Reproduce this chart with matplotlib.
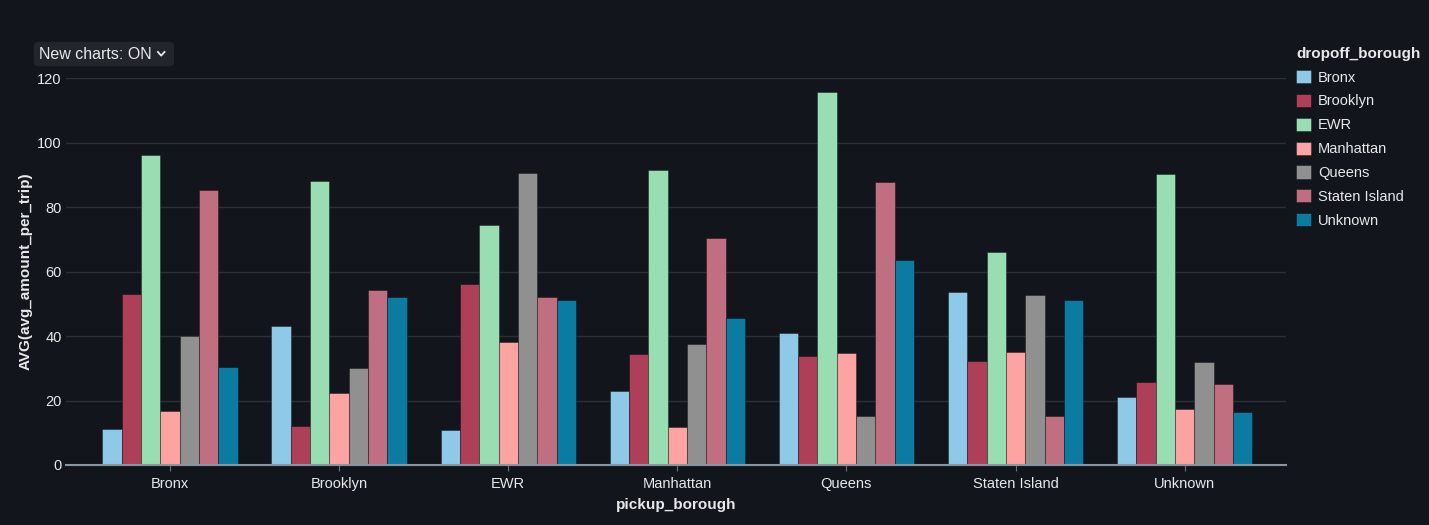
import numpy as np
import matplotlib
matplotlib.use("Agg")
import matplotlib.pyplot as plt
from matplotlib.lines import Line2D

plt.rcParams['font.family'] = ['Liberation Sans', 'DejaVu Sans']

# data
pickup = ["Bronx", "Brooklyn", "EWR", "Manhattan", "Queens", "Staten Island", "Unknown"]
dropoff = ["Bronx", "Brooklyn", "EWR", "Manhattan", "Queens", "Staten Island", "Unknown"]
# one list per dropoff borough, values in pickup order
bronx = [11.2, 43.1, 10.9, 23.0, 40.9, 53.6, 21.1]
brooklyn = [53.0, 12.1, 56.1, 34.4, 33.8, 32.2, 25.7]
ewr = [96.1, 88.0, 74.4, 91.5, 115.7, 66.0, 90.2]
manhattan = [16.7, 22.3, 38.1, 11.8, 34.7, 35.0, 17.4]
queens = [40.0, 30.0, 90.5, 37.5, 15.2, 52.7, 31.9]
staten_island = [85.3, 54.3, 52.1, 70.4, 87.8, 15.2, 25.1]
unknown = [30.4, 52.1, 51.2, 45.6, 63.6, 51.2, 16.4]
series = [bronx, brooklyn, ewr, manhattan, queens, staten_island, unknown]
colors = ["#8ecae8", "#ad4058", "#99deb3", "#fda4a2", "#909090", "#bf6f80", "#0b7ba2"]

bg = "#12161c"
fg = "#e6e8ea"

fig = plt.figure(figsize=(14.29, 5.25), dpi=100, facecolor=bg)
ax = fig.add_axes([0.0462, 0.1143, 0.8538, 0.737], facecolor=bg)

x = np.arange(len(pickup))
n = len(series)
w = 0.8 / n
for i, (name, vals, c) in enumerate(zip(dropoff, series, colors)):
    ax.bar(x - 0.4 + w * (i + 0.5), vals, width=w, color=c, label=name,
           edgecolor=(0, 0, 0, 0.35), linewidth=0.7, zorder=3)

ax.set_xlim(-0.615, 6.6)
ax.set_ylim(0, 120)
ax.set_yticks(range(0, 121, 20))
ax.yaxis.grid(True, color="#2c3035", linewidth=1, zorder=0)
ax.tick_params(axis='y', length=0, colors=fg, labelsize=10.5, pad=3)
ax.tick_params(axis='x', length=4, color="#6a737c", colors=fg, labelsize=10.5, pad=5)
ax.set_xticks(x)
ax.set_xticklabels(pickup)
for s in ["top", "right", "left"]:
    ax.spines[s].set_visible(False)
ax.spines["bottom"].set_color("#8a96a2")
ax.spines["bottom"].set_linewidth(1.5)
ax.spines["bottom"].set_zorder(4)

ax.set_xlabel("pickup_borough", color=fg, fontsize=11, fontweight="bold", labelpad=5)
ax.set_ylabel("AVG(avg_amount_per_trip)", color=fg, fontsize=11, fontweight="bold", labelpad=3)

leg = fig.legend(loc="upper left", bbox_to_anchor=(0.907, 0.911), frameon=False,
                 title="dropoff_borough", fontsize=10.5, handlelength=1.0, handleheight=1.0,
                 handletextpad=0.5, labelspacing=0.64, borderaxespad=0, borderpad=0,
                 alignment="left")
leg.get_title().set_color(fg)
leg.get_title().set_fontweight("bold")
leg.get_title().set_fontsize(11)
for t in leg.get_texts():
    t.set_color(fg)

# "New charts" toggle in the corner
fig.text(0.027, 0.897, "New charts: ON    ", color=fg, fontsize=11.5, va="center", ha="left",
         bbox=dict(boxstyle="round,pad=0.3,rounding_size=0.3", facecolor="#22262c", edgecolor="none"))
fig.add_artist(Line2D([0.1105, 0.1128, 0.1151], [0.901, 0.894, 0.901], transform=fig.transFigure,
                      color=fg, linewidth=1.3, zorder=10))

fig.savefig("out.png", dpi=100, facecolor=bg)
